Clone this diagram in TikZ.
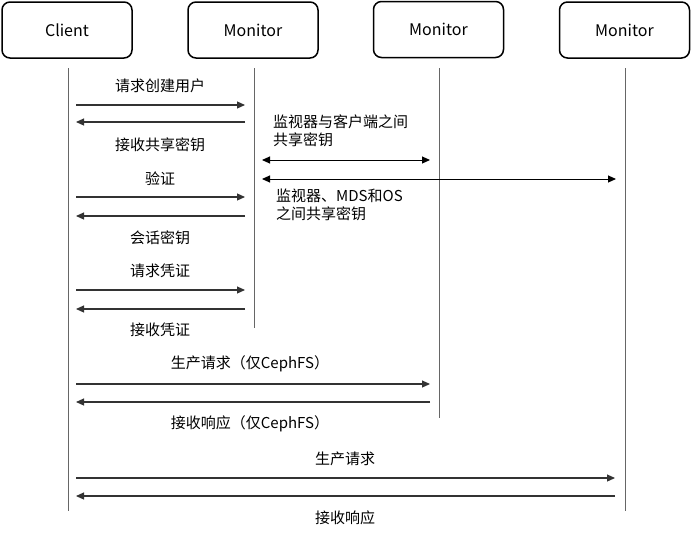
\documentclass[tikz,border=0pt]{standalone}
\usepackage{fontspec}
\setmainfont{Noto Sans CJK SC}
\usetikzlibrary{arrows.meta}
\begin{document}
\begin{tikzpicture}[x=1pt,y=-1pt,
  actor/.style={draw=black,line width=1.5pt,rounded corners=8pt,minimum width=130pt,minimum height=56pt,font=\fontsize{16}{18}\selectfont,inner sep=0pt},
  life/.style={draw=black!60,line width=1pt},
  msg/.style={draw=black!80,line width=1.1pt,-{Triangle[length=8pt,width=7pt]}},
  dmsg/.style={draw=black,line width=1pt,{Triangle[length=8pt,width=7pt]}-{Triangle[length=8pt,width=7pt]}},
  lbl/.style={font=\fontsize{15}{17}\selectfont,inner sep=0pt},
  note/.style={font=\fontsize{15}{18}\selectfont,inner sep=0pt,align=left,anchor=north west}]
\useasboundingbox (0,0) rectangle (692,536);
% actors
\node[actor] (client) at (67,30) {Client};
\node[actor] (mon1) at (253,30) {Monitor};
\node[actor] (mon2) at (438.5,29.5) {Monitor};
\node[actor] (mon3) at (624.5,30) {Monitor};
% lifelines
\coordinate (cl0) at (68,68);  \coordinate (cl1) at (68,511);
\coordinate (m10) at (254,68); \coordinate (m11) at (254,328);
\coordinate (m20) at (439,68); \coordinate (m21) at (439,418);
\coordinate (m30) at (625,68); \coordinate (m31) at (625,511);
\draw[life] (cl0) -- (cl1);
\draw[life] (m10) -- (m11);
\draw[life] (m20) -- (m21);
\draw[life] (m30) -- (m31);
% messages client <-> mon1
\coordinate (a1) at (76,105);  \coordinate (b1) at (245,105);
\coordinate (a2) at (76,122);  \coordinate (b2) at (245,122);
\coordinate (a3) at (76,197);  \coordinate (b3) at (245,197);
\coordinate (a4) at (76,216);  \coordinate (b4) at (245,216);
\coordinate (a5) at (76,290);  \coordinate (b5) at (245,290);
\coordinate (a6) at (76,309);  \coordinate (b6) at (245,309);
\draw[msg] (a1) -- (b1);
\draw[msg] (b2) -- (a2);
\draw[msg] (a3) -- (b3);
\draw[msg] (b4) -- (a4);
\draw[msg] (a5) -- (b5);
\draw[msg] (b6) -- (a6);
\node[lbl] (t1) at (160,86) {请求创建用户};
\node[lbl] (t2) at (160,145) {接收共享密钥};
\node[lbl] (t3) at (160,179) {验证};
\node[lbl] (t4) at (160,238) {会话密钥};
\node[lbl] (t5) at (160,271) {请求凭证};
\node[lbl] (t6) at (160,330) {接收凭证};
% key sharing
\coordinate (k1a) at (262,160); \coordinate (k1b) at (430,160);
\coordinate (k2a) at (262,179); \coordinate (k2b) at (616,179);
\draw[dmsg] (k1a) -- (k1b);
\draw[dmsg] (k2a) -- (k2b);
\node[note] (n1) at (273,115) {监视器与客户端之间\\共享密钥};
\node[note] (n2) at (276,189) {监视器、MDS和OS\\之间共享密钥};
% client <-> mon2
\coordinate (a7) at (76,384); \coordinate (b7) at (430,384);
\coordinate (a8) at (76,402); \coordinate (b8) at (430,402);
\draw[msg] (a7) -- (b7);
\draw[msg] (b8) -- (a8);
\node[lbl] (t7) at (250,364) {生产请求（仅CephFS）};
\node[lbl] (t8) at (250,424) {接收响应（仅CephFS）};
% client <-> mon3
\coordinate (a9) at (76,478); \coordinate (b9) at (615,478);
\coordinate (a10) at (76,496); \coordinate (b10) at (615,496);
\draw[msg] (a9) -- (b9);
\draw[msg] (b10) -- (a10);
\node[lbl] (t9) at (345,459) {生产请求};
\node[lbl] (t10) at (345,518) {接收响应};
\end{tikzpicture}
\end{document}
